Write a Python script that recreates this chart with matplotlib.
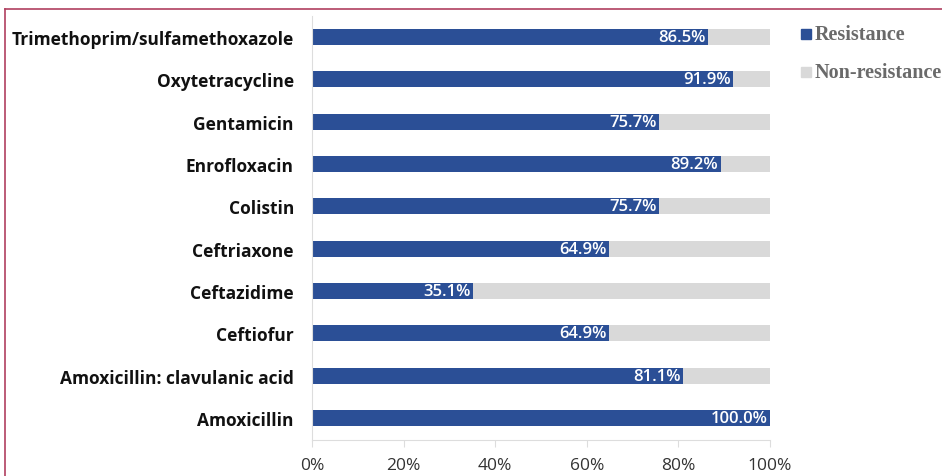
import matplotlib
matplotlib.use("Agg")
import matplotlib.pyplot as plt
from matplotlib.patches import Rectangle

categories = ["Amoxicillin", "Amoxicillin: clavulanic acid", "Ceftiofur", "Ceftazidime",
              "Ceftriaxone", "Colistin", "Enrofloxacin", "Gentamicin", "Oxytetracycline",
              "Trimethoprim/sulfamethoxazole"]
resistance = [100.0, 81.1, 64.9, 35.1, 64.9, 75.7, 89.2, 75.7, 91.9, 86.5]
non_resistance = [100 - v for v in resistance]
xticks = [0, 20, 40, 60, 80, 100]
xtick_labels = ["0%", "20%", "40%", "60%", "80%", "100%"]

blue = "#2b4f96"
gray = "#d9d9d9"

fig = plt.figure(figsize=(9.42, 4.77), dpi=100)
ax = fig.add_axes([312/942, 1-441/477, (770-312)/942, (441-16.8)/477])

y = list(range(len(categories)))
ax.barh(y, resistance, height=0.38, color=blue, zorder=2)
ax.barh(y, non_resistance, left=resistance, height=0.38, color=gray, zorder=2)
for yi, v in zip(y, resistance):
    ax.text(v - 0.5, yi, f"{v:.1f}%", ha="right", va="center", color="white",
            fontsize=12, fontfamily="Open Sans", fontweight="semibold", zorder=3)

ax.set_xlim(0, 100)
ax.set_ylim(-0.52, 9.5)
ax.set_yticks(y)
ax.set_yticklabels(categories, fontfamily="Open Sans", fontweight="bold", fontsize=12.5, color="#111111")
ax.set_xticks(xticks)
ax.set_xticklabels(xtick_labels, fontfamily="Open Sans", fontsize=12.5, color="#333333")
for s in ["top", "right"]:
    ax.spines[s].set_visible(False)
ax.spines["left"].set_color("#dddddd")
ax.spines["bottom"].set_color("#dddddd")
ax.tick_params(axis="y", length=0, pad=13)
ax.tick_params(axis="x", length=5, color="#dddddd", pad=7)

# legend
fig.patches.append(Rectangle((801/942, 1-40/477), 10/942, 10/477, transform=fig.transFigure,
                             color=blue, figure=fig))
fig.patches.append(Rectangle((801/942, 1-78/477), 10/942, 10/477, transform=fig.transFigure,
                             color=gray, figure=fig))
fig.text(815/942, 1-35/477, "Resistance", fontfamily="Liberation Serif", fontweight="bold",
         fontsize=14.5, color="#6a6a6a", va="center")
fig.text(815/942, 1-73/477, "Non-resistance", fontfamily="Liberation Serif", fontweight="bold",
         fontsize=14.5, color="#6a6a6a", va="center")

# frame line
fig.add_artist(plt.Line2D([5/942, 5/942], [0, 1-10/477], transform=fig.transFigure,
                          color="#b04060", lw=1.2))
fig.add_artist(plt.Line2D([5/942, 1], [1-10/477, 1-10/477], transform=fig.transFigure,
                          color="#b04060", lw=1.2))

fig.savefig("out.png", dpi=100)
